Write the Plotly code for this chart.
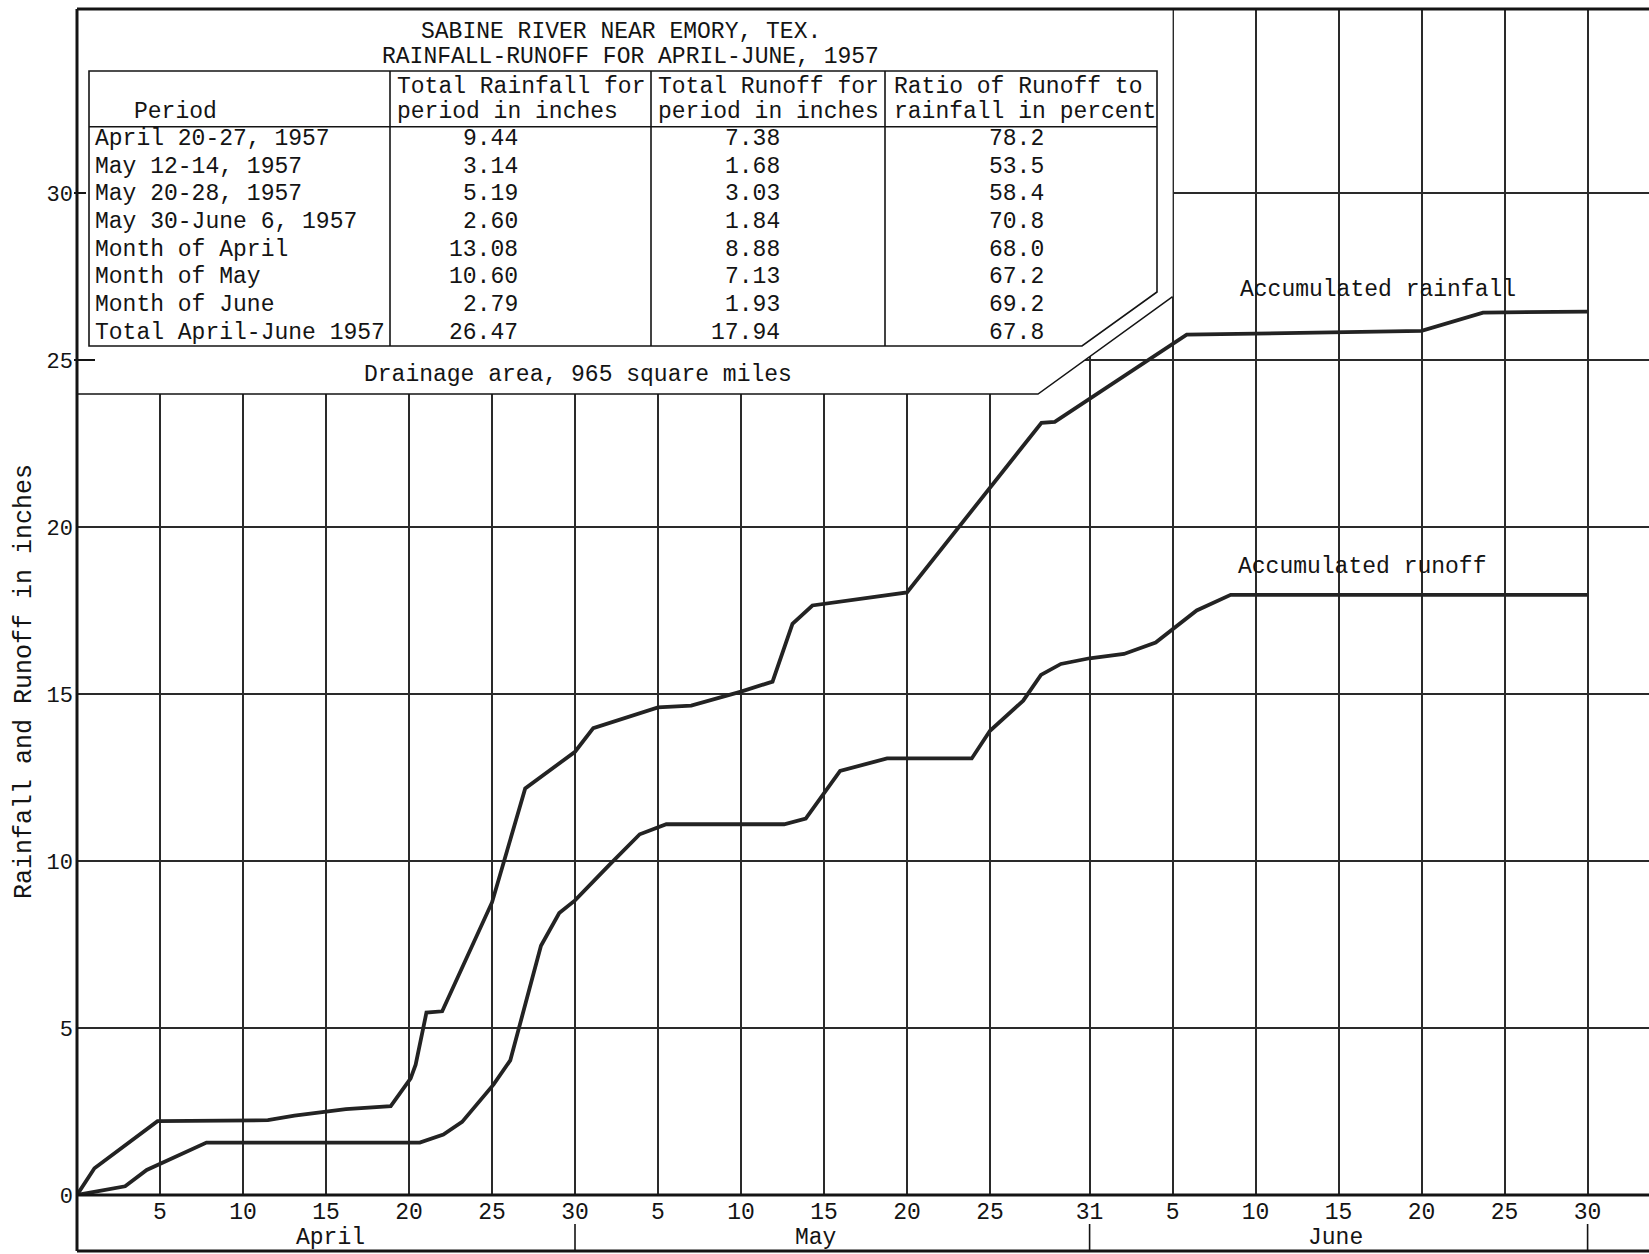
import plotly.graph_objects as go

# ---------------- data ----------------
# elapsed days since April 1 (0 = start of April 1)
rain_days = [0, 1.05, 4.85, 11.5, 13.1, 15.0, 16.2, 18.9, 20.1, 20.4, 21.05, 22.0,
             25.0, 27.0, 30.0, 31.1, 35.0, 37.0, 40.0, 41.9, 43.1, 44.3, 50.0,
             58.1, 58.9, 66.85, 81.0, 84.7, 91.0]
rain_vals = [0, 0.80, 2.21, 2.24, 2.38, 2.50, 2.57, 2.66, 3.49, 3.90, 5.46, 5.50,
             8.76, 12.17, 13.27, 13.98, 14.60, 14.65, 15.07, 15.37, 17.10, 17.65, 18.04,
             23.12, 23.15, 25.76, 25.87, 26.42, 26.45]

runoff_days = [0, 2.9, 4.2, 7.8, 20.65, 22.07, 23.2, 25.1, 26.1, 27.95, 29.05, 30.0,
               32.1, 33.9, 35.5, 42.6, 43.9, 45.97, 48.8, 53.9, 55.0, 57.0, 58.07,
               59.27, 61.0, 63.07, 64.98, 67.45, 69.5, 91.0]
runoff_vals = [0, 0.26, 0.75, 1.57, 1.57, 1.81, 2.19, 3.31, 4.03, 7.46, 8.44, 8.82,
               9.90, 10.80, 11.10, 11.10, 11.27, 12.70, 13.07, 13.07, 13.90, 14.80, 15.57,
               15.90, 16.07, 16.20, 16.54, 17.50, 17.97, 17.97]

grid_days = [5, 10, 15, 20, 25, 30, 35, 40, 45, 50, 55, 61, 66, 71, 76, 81, 86, 91]
grid_labels = ["5", "10", "15", "20", "25", "30", "5", "10", "15", "20", "25", "31",
               "5", "10", "15", "20", "25", "30"]
y_ticks = [0, 5, 10, 15, 20, 25, 30]
y_labels = ["0", "5", "10", "15", "20", "25", "30"]

months = ["April", "May", "June"]
month_centers = [15.3, 44.5, 75.8]
month_ends = [30, 61, 91]

title_lines = ["SABINE RIVER NEAR EMORY, TEX.", "RAINFALL-RUNOFF FOR APRIL-JUNE, 1957"]
col_headers = [["", "Period"],
               ["Total Rainfall for", "period in inches"],
               ["Total Runoff for", "period in inches"],
               ["Ratio of Runoff to", "rainfall in percent"]]
periods = ["April 20-27, 1957", "May 12-14, 1957", "May 20-28, 1957",
           "May 30-June 6, 1957", "Month of April", "Month of May",
           "Month of June", "Total April-June 1957"]
total_rainfall = ["9.44", "3.14", "5.19", "2.60", "13.08", "10.60", "2.79", "26.47"]
total_runoff = ["7.38", "1.68", "3.03", "1.84", "8.88", "7.13", "1.93", "17.94"]
runoff_ratio = ["78.2", "53.5", "58.4", "70.8", "68.0", "67.2", "69.2", "67.8"]
drainage_note = "Drainage area, 965 square miles"
y_title = "Rainfall and Runoff in inches"

# ---------------- layout geometry (pixels) ----------------
W, H = 1649, 1254
LEFT, TOP, ZERO_Y, BOTTOM = 77, 9, 1195, 1251
PX_PER_DAY = 16.6
PX_PER_IN = 33.4
FONT = "Liberation Mono"
INK = "#141414"


def xp(px):
    return (px - LEFT) / (W - LEFT)


def yp(py):
    return (ZERO_Y - py) / (ZERO_Y - TOP)


fig = go.Figure()

fig.add_trace(go.Scatter(x=rain_days, y=rain_vals, mode="lines",
                         line=dict(color="#232323", width=3.8), hoverinfo="skip",
                         name="Accumulated rainfall"))
fig.add_trace(go.Scatter(x=runoff_days, y=runoff_vals, mode="lines",
                         line=dict(color="#232323", width=3.8), hoverinfo="skip",
                         name="Accumulated runoff"))

shapes = []
# white inset area that hides the grid under the table
shapes.append(dict(type="path", xref="paper", yref="paper", layer="above",
                   path=f"M {xp(LEFT)},{yp(TOP)} L {xp(1172.6)},{yp(TOP)} L {xp(1172.6)},{yp(296.7)} "
                        f"L {xp(1038)},{yp(394)} L {xp(LEFT)},{yp(394)} Z",
                   fillcolor="white", line=dict(width=0)))
# outer boundary of the inset
shapes.append(dict(type="path", xref="paper", yref="paper", layer="above",
                   path=f"M {xp(1172.6)},{yp(296.7)} L {xp(1038)},{yp(394)} L {xp(LEFT)},{yp(394)}",
                   line=dict(color=INK, width=1.5)))
# table frame with chamfered corner
shapes.append(dict(type="path", xref="paper", yref="paper", layer="above",
                   path=f"M {xp(89)},{yp(71)} L {xp(1157)},{yp(71)} L {xp(1157)},{yp(292)} "
                        f"L {xp(1082)},{yp(346)} L {xp(89)},{yp(346)} Z",
                   line=dict(color=INK, width=1.6)))
# header separator
shapes.append(dict(type="line", xref="paper", yref="paper", layer="above",
                   x0=xp(89), x1=xp(1157), y0=yp(126.7), y1=yp(126.7),
                   line=dict(color=INK, width=1.6)))
# column dividers
for cx in [390, 651, 885]:
    shapes.append(dict(type="line", xref="paper", yref="paper", layer="above",
                       x0=xp(cx), x1=xp(cx), y0=yp(71), y1=yp(346),
                       line=dict(color=INK, width=1.6)))
# frame: top, left, x-axis line, bottom
shapes.append(dict(type="line", xref="paper", yref="paper", layer="above",
                   x0=xp(LEFT), x1=xp(W + 5), y0=yp(TOP), y1=yp(TOP),
                   line=dict(color=INK, width=3)))
shapes.append(dict(type="line", xref="paper", yref="paper", layer="above",
                   x0=xp(LEFT), x1=xp(LEFT), y0=yp(TOP), y1=yp(BOTTOM),
                   line=dict(color=INK, width=3)))
shapes.append(dict(type="line", xref="paper", yref="paper", layer="above",
                   x0=xp(LEFT), x1=xp(W + 5), y0=yp(ZERO_Y), y1=yp(ZERO_Y),
                   line=dict(color=INK, width=3)))
shapes.append(dict(type="line", xref="paper", yref="paper", layer="above",
                   x0=xp(LEFT), x1=xp(W + 5), y0=yp(BOTTOM), y1=yp(BOTTOM),
                   line=dict(color=INK, width=3)))
# month separators below the axis
for d in month_ends:
    px = LEFT + d * PX_PER_DAY
    shapes.append(dict(type="line", xref="paper", yref="paper", layer="above",
                       x0=xp(px), x1=xp(px), y0=yp(1224), y1=yp(BOTTOM),
                       line=dict(color=INK, width=1.6)))
# short ticks at 30 and 25 where the inset hides the grid
for v, ln in [(30, 9), (25, 18)]:
    py = ZERO_Y - v * PX_PER_IN
    shapes.append(dict(type="line", xref="paper", yref="paper", layer="above",
                       x0=xp(LEFT - 3), x1=xp(LEFT + ln), y0=yp(py), y1=yp(py),
                       line=dict(color=INK, width=2)))

ann = []


def text(x, y, s, size=23, xanchor="center", angle=0):
    ann.append(dict(xref="paper", yref="paper", x=xp(x), y=yp(y), text=s, showarrow=False,
                    xanchor=xanchor, yanchor="middle", textangle=angle,
                    font=dict(family=FONT, size=size, color=INK)))


text(621, 31.7, title_lines[0])
text(630, 56.7, title_lines[1])
# headers
text(175, 112.3, col_headers[0][1])
for (l1, l2), x0 in zip(col_headers[1:], [395, 656, 892]):
    text(x0, 87.3, l1, xanchor="left")
    text(x0, 112.3, l2, xanchor="left")
for i in range(len(periods)):
    y = 139 + 27.7 * i
    text(93, y, periods[i], xanchor="left")
    text(520, y, total_rainfall[i], xanchor="right")
    text(782, y, total_runoff[i], xanchor="right")
    text(1046, y, runoff_ratio[i], xanchor="right")
text(578, 375, drainage_note)
# y-axis title
text(25, 682, y_title, size=25, angle=-90)
# month names
for m, c in zip(months, month_centers):
    text(LEFT + c * PX_PER_DAY, 1238, m)
# curve labels
ann.append(dict(x=78.4, y=27.1, xref="x", yref="y", text="Accumulated rainfall", showarrow=False,
                font=dict(family=FONT, size=23, color=INK)))
ann.append(dict(x=77.4, y=18.8, xref="x", yref="y", text="Accumulated runoff", showarrow=False,
                font=dict(family=FONT, size=23, color=INK)))

fig.update_layout(
    width=W, height=H,
    margin=dict(l=LEFT, r=0, t=TOP, b=H - ZERO_Y, pad=0),
    paper_bgcolor="white", plot_bgcolor="white",
    showlegend=False,
    shapes=shapes, annotations=ann,
    xaxis=dict(range=[0, (W - LEFT) / PX_PER_DAY], tickvals=grid_days, ticktext=grid_labels,
               showgrid=True, gridcolor="#2a2a2a", gridwidth=1.5, zeroline=False,
               showline=False, ticks="", tickfont=dict(family=FONT, size=23, color=INK),
               ticklabelstandoff=0, fixedrange=True),
    yaxis=dict(range=[0, (ZERO_Y - TOP) / PX_PER_IN], tickvals=y_ticks, ticktext=y_labels,
               showgrid=True, gridcolor="#2a2a2a", gridwidth=1.5, zeroline=False,
               showline=False, ticks="", tickfont=dict(family=FONT, size=22, color=INK),
               ticklabelstandoff=3, fixedrange=True),
)

fig.write_html("out.html")
